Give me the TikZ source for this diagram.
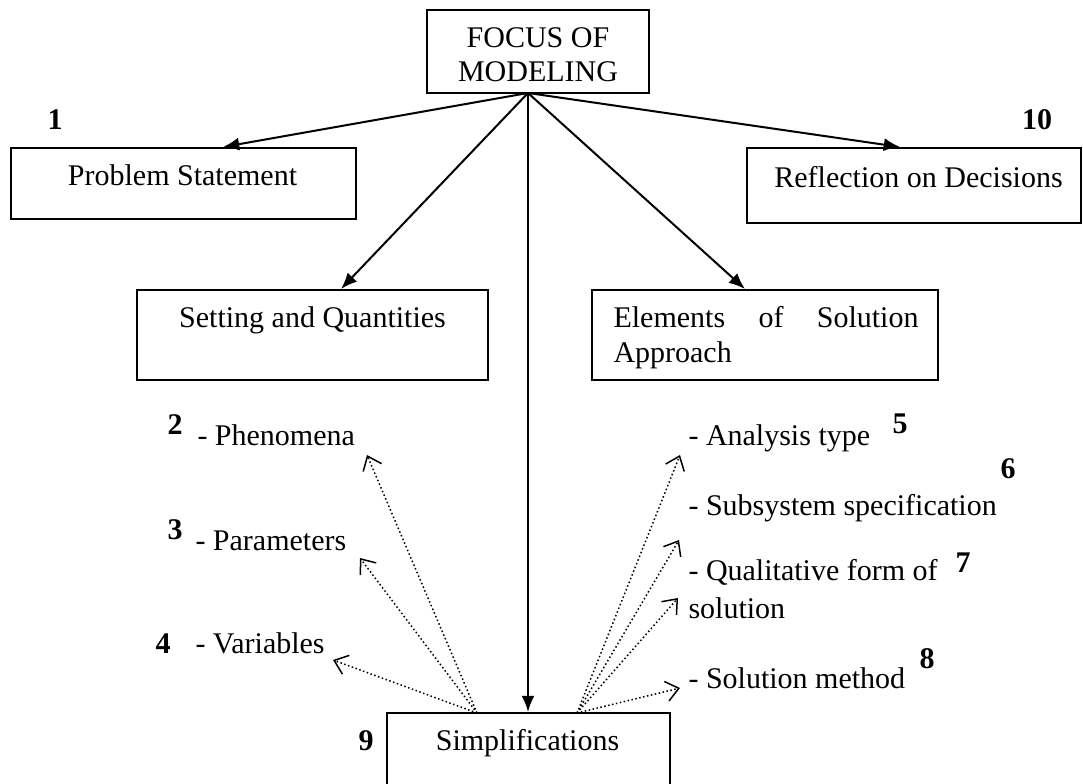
\documentclass[tikz,border=0pt]{standalone}
\usepackage{fontspec}
\setmainfont{Liberation Serif}
\usetikzlibrary{arrows.meta}
\begin{document}
\begin{tikzpicture}[x=0.4pt,y=-0.4pt,
  box/.style={draw,line width=0.8pt,inner sep=0pt},
  lbl/.style={inner sep=0pt,font=\fontsize{12}{14}\selectfont},
  num/.style={inner sep=0pt,font=\fontsize{12}{14}\selectfont\bfseries},
  mainarrow/.style={line width=0.8pt,-{Latex[length=6.5pt,width=5.2pt]}},
  dotarrow/.style={line width=0.6pt,densely dotted,-{Straight Barb[length=5pt,width=8pt]}}]
\useasboundingbox (0,0) rectangle (1083,784);
\clip (0,0) rectangle (1083,784);
% boxes
\node[box,minimum width=88.8pt,minimum height=33.2pt] (focus) at (538,51.5) {};
\node[box,minimum width=138pt,minimum height=28.4pt] (ps) at (183.5,183.5) {};
\node[box,minimum width=133.6pt,minimum height=30pt] (rd) at (914,185.5) {};
\node[box,minimum width=140.4pt,minimum height=36pt] (sq) at (312.5,335) {};
\node[box,minimum width=138.4pt,minimum height=36pt] (el) at (765,335) {};
\node[box,minimum width=113.2pt,minimum height=34.8pt] (simp) at (528.5,756.5) {};
% box texts
\node[lbl,align=center,anchor=base,font=\fontsize{12}{13.6}\selectfont] (focustxt) at (538,82) {FOCUS OF\\MODELING};
\node[lbl,anchor=base] (pstxt) at (182.5,186) {Problem Statement};
\node[lbl,anchor=base] (rdtxt) at (918.5,188) {Reflection on Decisions};
\node[lbl,anchor=base] (sqtxt) at (312.5,328) {Setting and Quantities};
\node[lbl,anchor=base west,align=left,font=\fontsize{12}{14}\selectfont] (eltxt) at (613,363) {\makebox[122pt][s]{Elements of Solution}\\Approach};
\node[lbl,anchor=base] (simptxt) at (527.5,750) {Simplifications};
% numbers
\node[num,anchor=base] (n1) at (55,130) {1};
\node[num,anchor=base] (n10) at (1037,130) {10};
\node[num,anchor=base] (n2) at (175,434) {2};
\node[num,anchor=base] (n3) at (175,539) {3};
\node[num,anchor=base] (n4) at (163,653) {4};
\node[num,anchor=base] (n5) at (900,433) {5};
\node[num,anchor=base] (n6) at (1008,478) {6};
\node[num,anchor=base] (n7) at (963,572) {7};
\node[num,anchor=base] (n8) at (927,668) {8};
\node[num,anchor=base] (n9) at (366,750) {9};
% item labels
\node[lbl,anchor=base west] (phen) at (197,445) {- Phenomena};
\node[lbl,anchor=base west] (par) at (195,550) {- Parameters};
\node[lbl,anchor=base west] (var) at (195,653) {- Variables};
\node[lbl,anchor=base west] (ana) at (688,445) {- Analysis type};
\node[lbl,anchor=base west] (sub) at (688,515) {- Subsystem specification};
\node[lbl,anchor=base west,align=left,font=\fontsize{12}{15.2}\selectfont] (qual) at (688,618) {- Qualitative form of\\solution};
\node[lbl,anchor=base west] (meth) at (688,688) {- Solution method};
% connectors
\coordinate (hub) at (528,93);
\draw[mainarrow] (hub) -- (ps.north -| 223,0);
\draw[mainarrow] (hub) -- (rd.north -| 900,0);
\draw[mainarrow] (hub) -- (sq.north -| 341,0);
\draw[mainarrow] (hub) -- (el.north -| 745,0);
\draw[mainarrow] (hub) -- (simp.north -| 528,0);
\coordinate (sl) at (477,713);
\coordinate (sr) at (577,713);
\coordinate (tphen) at (367,455);
\coordinate (tpar) at (360,558);
\coordinate (tvar) at (333,660);
\coordinate (tana) at (680,455);
\coordinate (tsub) at (679,540);
\coordinate (tqual) at (678,598);
\coordinate (tmeth) at (680,688);
\draw[dotarrow] (sl) -- (tphen);
\draw[dotarrow] (sl) -- (tpar);
\draw[dotarrow] (sl) -- (tvar);
\draw[dotarrow] (sr) -- (tana);
\draw[dotarrow] (sr) -- (tsub);
\draw[dotarrow] (sr) -- (tqual);
\draw[dotarrow] (sr) -- (tmeth);
\end{tikzpicture}
\end{document}
